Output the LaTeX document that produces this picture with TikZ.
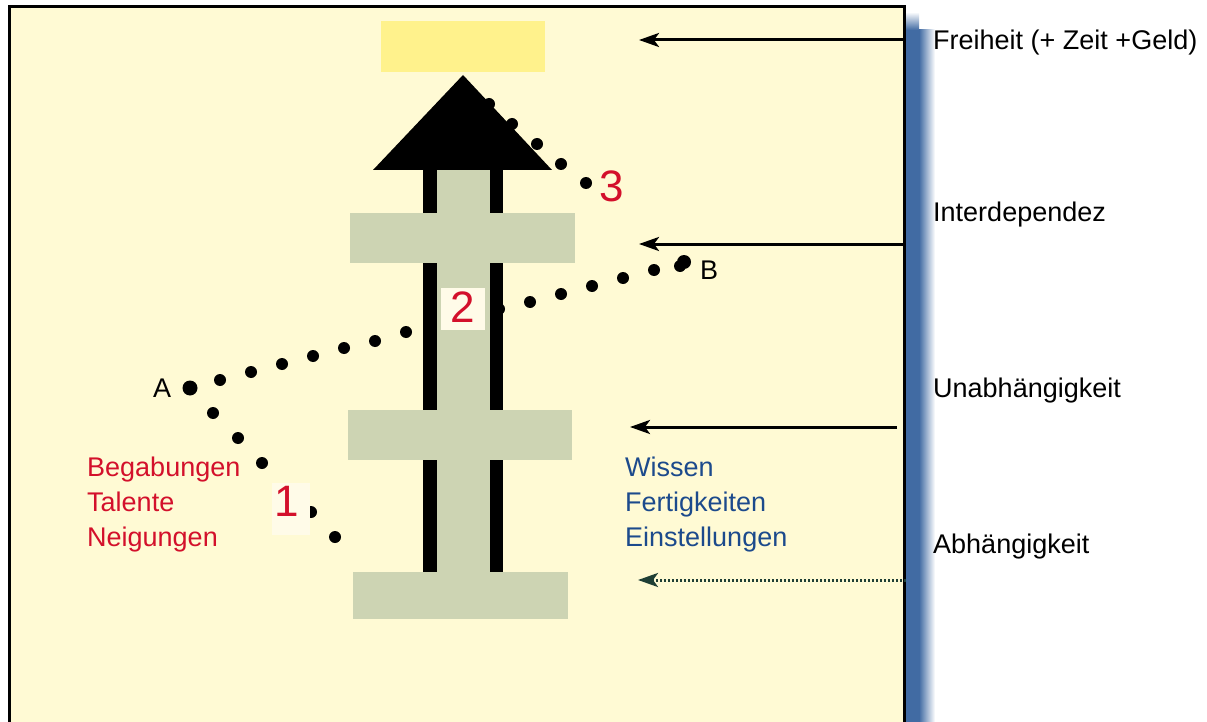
\documentclass[tikz,border=0pt]{standalone}
\usepackage{fontspec}
\setmainfont{Liberation Sans}
\usetikzlibrary{arrows.meta}
\definecolor{panel}{HTML}{FFFAD4}
\definecolor{rung}{HTML}{CDD4B3}
\definecolor{topbox}{HTML}{FFF28C}
\definecolor{redtxt}{HTML}{D3102B}
\definecolor{bluetxt}{HTML}{1C4A8C}
\definecolor{shadowblue}{HTML}{416BA3}
\definecolor{numbox}{HTML}{FFFBE8}
\definecolor{dotline}{HTML}{1F3F35}
\tikzset{
  lbl/.style={anchor=base west, inner sep=0pt, font=\fontsize{27}{32}\selectfont},
  num/.style={anchor=base, inner sep=0pt, text=redtxt, font=\fontsize{44}{48}\selectfont},
  lvlarrow/.style={line width=3pt, -{Stealth[length=20pt,width=14pt,inset=5pt]}},
  dotc/.style={fill=black},
}
\begin{document}
\begin{tikzpicture}[x=1pt,y=-1pt]
\useasboundingbox (0,0) rectangle (1207,722);
% shadow
\fill[shadowblue] (904,30) rectangle (919,722);
\shade[left color=shadowblue, right color=white] (919,30) rectangle (935,722);
\shade[top color=white, bottom color=shadowblue] (904,12) rectangle (919,30);
% panel
\fill[panel] (9,7) rectangle (904,723);
\draw[line width=3pt] (9,724) -- (9,7) -- (904,7) -- (904,724);
% top yellow box
\fill[topbox] (381,21) rectangle (545,72);
% dots
\foreach \p in {(335,537),(311,512),(262,463),(238,438),(213,413),
  (220,380),(251,372),(282,364),(313,356),(344,348),(375,341),(406,332),(437,324),(468,316),
  (499,309),(530,302),(561,294),(592,286),(623,278),(654,270),
  (586,183),(561,164),(537,144),(512,124),(489,104)}
  \fill[dotc] \p circle (6);
\fill[dotc] (190,388) circle (7.5);
\fill[dotc] (684,262) circle (7) (680,266) circle (6);
% arrow head triangle
\fill[black] (463,75) -- (552,170) -- (373,170) -- cycle;
% shaft
\fill[black] (423,170) rectangle (503,572);
\fill[rung] (437,170) rectangle (490,572);
% rungs
\fill[rung] (350,213) rectangle (575,263);
\fill[rung] (348,410) rectangle (572,460);
\fill[rung] (353,572) rectangle (568,619);
% number boxes
\fill[numbox] (441,288) rectangle (485,330);
\fill[numbox] (272,483) rectangle (310,535);
\node[num] (n1) at (287,516) {1};
\node[num] (n2) at (463,322) {2};
\node[num] (n3) at (612,202) {3};
% A, B
\node[lbl] (A) at (153,397) {A};
\node[lbl] (B) at (700,279) {B};
% left red labels
\node[lbl, text=redtxt] (t1) at (87,476) {Begabungen};
\node[lbl, text=redtxt] (t2) at (87,511) {Talente};
\node[lbl, text=redtxt] (t3) at (87,546) {Neigungen};
% blue labels
\node[lbl, text=bluetxt] (w1) at (625,476) {Wissen};
\node[lbl, text=bluetxt] (w2) at (625,511) {Fertigkeiten};
\node[lbl, text=bluetxt] (w3) at (625,546) {Einstellungen};
% right labels
\node[lbl] (r1) at (933,50) {Freiheit (+ Zeit +Geld)};
\node[lbl] (r2) at (933,222) {Interdependez};
\node[lbl] (r3) at (933,397) {Unabhängigkeit};
\node[lbl] (r4) at (933,553) {Abhängigkeit};
% arrows
\coordinate (s1) at (904,40);  \coordinate (e1) at (639,40);
\coordinate (s2) at (904,244); \coordinate (e2) at (639,244);
\coordinate (s3) at (897,427); \coordinate (e3) at (630,427);
\coordinate (s4) at (906,580); \coordinate (e4) at (638,580);
\draw[lvlarrow] (s1) -- (e1);
\draw[lvlarrow] (s2) -- (e2);
\draw[lvlarrow] (s3) -- (e3);
\draw[lvlarrow, dotline, dash pattern=on 2.5pt off 1.5pt] (s4) -- (e4);
\end{tikzpicture}
\end{document}
